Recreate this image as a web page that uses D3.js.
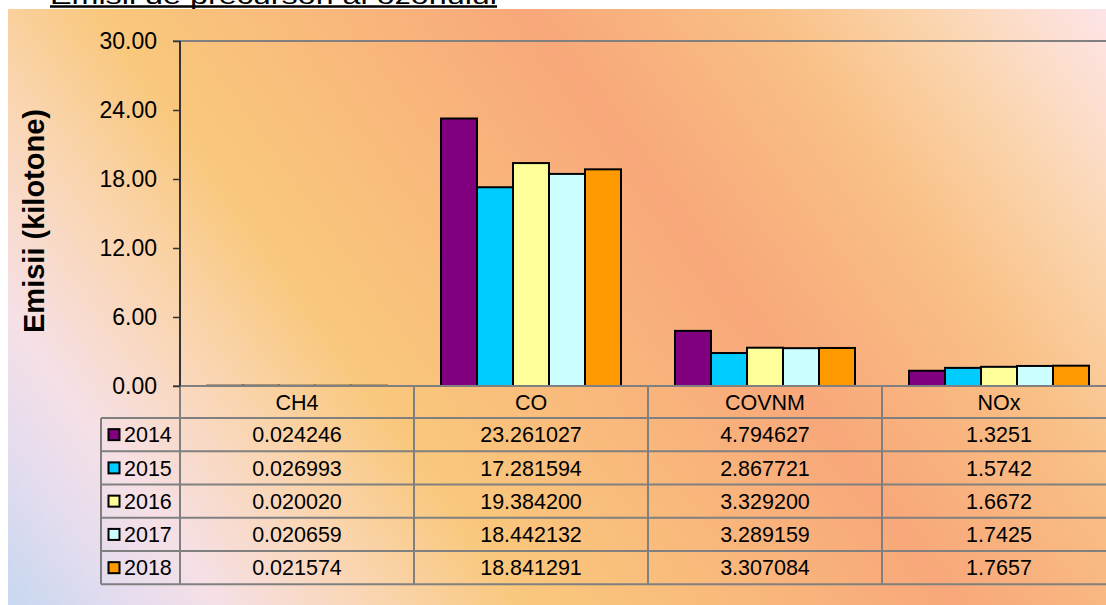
<!DOCTYPE html>
<html>
<head>
<meta charset="utf-8">
<script src="https://cdn.jsdelivr.net/npm/d3@7"></script>
<style>
  html, body { margin: 0; padding: 0; background: #fff; }
  svg { display: block; font-family: "Liberation Sans", Arial, sans-serif; }
</style>
</head>
<body>
<svg id="chart" width="1106" height="605"></svg>
<script>
// Emissions of ozone precursors by pollutant and year (kilotonnes)
const categories = ["CH4", "CO", "COVNM", "NOx"];
const years = ["2014", "2015", "2016", "2017", "2018"];
const values2014 = [0.024246, 23.261027, 4.794627, 1.3251];
const values2015 = [0.026993, 17.281594, 2.867721, 1.5742];
const values2016 = [0.020020, 19.384200, 3.329200, 1.6672];
const values2017 = [0.020659, 18.442132, 3.289159, 1.7425];
const values2018 = [0.021574, 18.841291, 3.307084, 1.7657];
const tableLabels2014 = ["0.024246", "23.261027", "4.794627", "1.3251"];
const tableLabels2015 = ["0.026993", "17.281594", "2.867721", "1.5742"];
const tableLabels2016 = ["0.020020", "19.384200", "3.329200", "1.6672"];
const tableLabels2017 = ["0.020659", "18.442132", "3.289159", "1.7425"];
const tableLabels2018 = ["0.021574", "18.841291", "3.307084", "1.7657"];
const yTicks = [0, 6, 12, 18, 24, 30];
const seriesColors = ["#800080", "#00CCFF", "#FFFF99", "#CCFFFF", "#FF9900"];

const series = [values2014, values2015, values2016, values2017, values2018];
const labels = [tableLabels2014, tableLabels2015, tableLabels2016, tableLabels2017, tableLabels2018];

const svg = d3.select("#chart");
const FONT = '"Liberation Sans", Arial, sans-serif';

// Background gradient of the chart area
const defs = svg.append("defs");
const grad = defs.append("linearGradient")
  .attr("id", "bg")
  .attr("gradientUnits", "userSpaceOnUse")
  .attr("x1", 8).attr("y1", 605)
  .attr("x2", 1016).attr("y2", -117);
[
  [0.00, "#C6D8F0"],
  [0.075, "#E4DCEF"],
  [0.14, "#F6E0E6"],
  [0.245, "#FAD5B0"],
  [0.34, "#F9C87C"],
  [0.48, "#F9B97C"],
  [0.62, "#F8A87A"],
  [0.77, "#F9BF84"],
  [0.87, "#FBD3AA"],
  [0.94, "#FCDECC"],
  [1.00, "#FDE4E8"]
].forEach(([o, c]) => grad.append("stop").attr("offset", o).attr("stop-color", c));

svg.append("rect")
  .attr("x", 8).attr("y", 9).attr("width", 1098).attr("height", 596)
  .attr("fill", "url(#bg)");

// Title (underlined)
svg.append("text")
  .attr("x", 50).attr("y", 4)
  .attr("font-size", 24)
  .attr("fill", "#000")
  .attr("textLength", 447)
  .attr("lengthAdjust", "spacingAndGlyphs")
  .text("Emisii de precursori ai ozonului");
svg.append("line")
  .attr("x1", 50).attr("x2", 497).attr("y1", 6.5).attr("y2", 6.5)
  .attr("stroke", "#000").attr("stroke-width", 2.5);

// Scales
const plotLeft = 180, plotRight = 1116, plotTop = 41, plotBottom = 386;
const x = d3.scaleBand().domain(categories).range([plotLeft, plotRight]).padding(0);
const bw = x.bandwidth();
const xInner = d3.scaleBand().domain(years).range([bw * 27 / 234, bw * 207 / 234]).padding(0);
const y = d3.scaleLinear().domain([0, 30]).range([plotBottom, plotTop]);

// Top gridline
svg.append("line")
  .attr("x1", plotLeft - 7).attr("x2", 1106)
  .attr("y1", y(30)).attr("y2", y(30))
  .attr("stroke", "#808080").attr("stroke-width", 2);

// Bars
const groups = svg.append("g").selectAll("g")
  .data(series)
  .join("g")
  .attr("fill", (d, i) => seriesColors[i]);
groups.each(function (vals, si) {
  d3.select(this).selectAll("rect")
    .data(vals)
    .join("rect")
    .attr("x", (v, ci) => x(categories[ci]) + xInner(years[si]))
    .attr("y", v => y(v))
    .attr("width", xInner.bandwidth())
    .attr("height", v => y(0) - y(v))
    .attr("stroke", "#000")
    .attr("stroke-width", 2);
});

// Table geometry
const headerBottom = 418;
const rowH = (584.3 - 418) / 5;
const legendLeft = 101;

const table = svg.append("g");
// horizontal lines
table.append("line")
  .attr("x1", plotLeft - 7).attr("x2", 1106)
  .attr("y1", plotBottom).attr("y2", plotBottom)
  .attr("stroke", "#808080").attr("stroke-width", 2);
d3.range(6).forEach(i => {
  table.append("line")
    .attr("x1", legendLeft).attr("x2", 1106)
    .attr("y1", headerBottom + i * rowH).attr("y2", headerBottom + i * rowH)
    .attr("stroke", "#808080").attr("stroke-width", 2);
});
// vertical lines
table.append("line")
  .attr("x1", legendLeft).attr("x2", legendLeft)
  .attr("y1", headerBottom).attr("y2", headerBottom + 5 * rowH)
  .attr("stroke", "#808080").attr("stroke-width", 2);
categories.forEach(c => {
  [x(c), x(c) + bw].forEach(xx => {
    if (xx > 1106) return;
    table.append("line")
      .attr("x1", xx).attr("x2", xx)
      .attr("y1", plotBottom).attr("y2", headerBottom + 5 * rowH)
      .attr("stroke", "#808080").attr("stroke-width", 2);
  });
});

// header labels
table.selectAll("text.head")
  .data(categories)
  .join("text")
  .attr("class", "head")
  .attr("x", d => x(d) + bw / 2)
  .attr("y", (plotBottom + headerBottom) / 2)
  .attr("dy", "0.36em")
  .attr("text-anchor", "middle")
  .attr("font-size", 21.5)
  .attr("fill", "#000")
  .text(d => d);

// rows
years.forEach((yr, ri) => {
  const cy = headerBottom + ri * rowH + rowH / 2;
  table.append("rect")
    .attr("x", 108.5).attr("y", cy - 5.5)
    .attr("width", 11).attr("height", 11)
    .attr("fill", seriesColors[ri])
    .attr("stroke", "#000").attr("stroke-width", 2);
  table.append("text")
    .attr("x", 124).attr("y", cy).attr("dy", "0.36em")
    .attr("font-size", 21.5).attr("fill", "#000")
    .text(yr);
  table.selectAll(null)
    .data(labels[ri])
    .join("text")
    .attr("x", (d, ci) => x(categories[ci]) + bw / 2)
    .attr("y", cy).attr("dy", "0.36em")
    .attr("text-anchor", "middle")
    .attr("font-size", 21.5).attr("fill", "#000")
    .text(d => d);
});

// Y axis
const yAxis = svg.append("g")
  .attr("transform", `translate(${plotLeft},0)`)
  .call(d3.axisLeft(y).tickValues(yTicks).tickFormat(d3.format(".2f")).tickSize(7).tickPadding(16));
yAxis.select(".domain").attr("stroke", "#333").attr("stroke-width", 2)
  .attr("d", `M0,${plotTop}V${plotBottom}`);
yAxis.selectAll(".tick line").attr("stroke", "#333").attr("stroke-width", 1.5);
yAxis.selectAll(".tick text")
  .attr("font-family", FONT).attr("font-size", 23).attr("fill", "#000");

// Y axis title
svg.append("text")
  .attr("transform", `translate(44,221) rotate(-90)`)
  .attr("text-anchor", "middle")
  .attr("font-size", 29).attr("font-weight", "bold").attr("fill", "#000")
  .text("Emisii (kilotone)");
</script>
</body>
</html>
